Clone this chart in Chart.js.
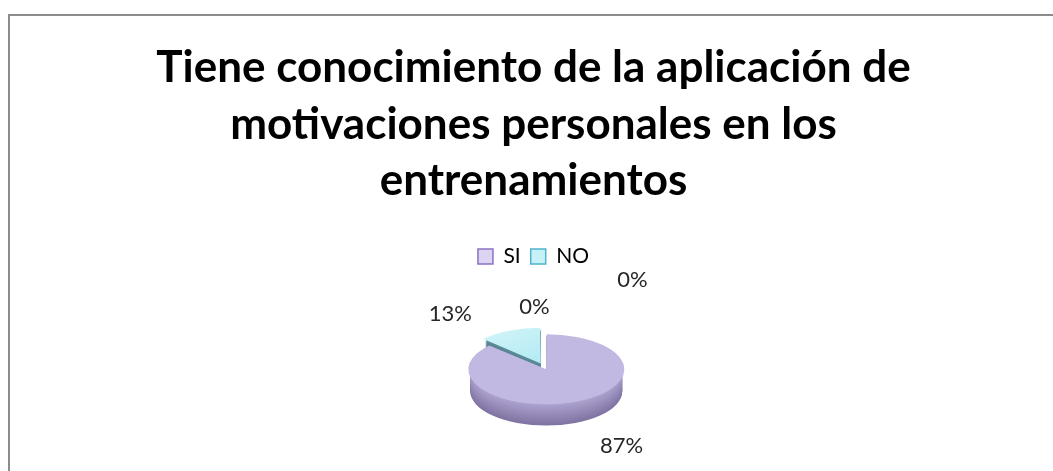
<!DOCTYPE html>
<html>
<head>
<meta charset="utf-8">
<title>Motivaciones personales</title>
<script src="https://cdn.jsdelivr.net/npm/chart.js@4.4.1/dist/chart.umd.min.js"></script>
<style>
    html, body { margin: 0; padding: 0; background: #fff; overflow: hidden; }
    #frame {
        position: absolute;
        left: 8px;
        top: 14px;
        width: 1060px;
        height: 470px;
        border: 2px solid #8c8c8c;
    }
    #chart { position: absolute; left: 0; top: 0; }
</style>
</head>
<body>
<div id="frame"></div>
<canvas id="chart" width="1053" height="471"></canvas>
<script>
// Survey answers (percent)
const categories = ['SI', 'NO', '', ''];
const percentages = [87, 13, 0, 0];
const titleLines = [
    'Tiene conocimiento de la aplicación de',
    'motivaciones personales en los',
    'entrenamientos'
];

// colours for the top face (light, dark) and the side wall (top, bottom)
const faceColors = [['#e6e2f6', '#c2b9e2'], ['#d4f6fa', '#98e0ec'], ['#ccc', '#ccc'], ['#ccc', '#ccc']];
const sideColors = [['#b0a5d2', '#8074a2'], ['#5e8e9a', '#355f6a'], ['#999', '#999'], ['#999', '#999']];
const legendBox = [
    { fill: '#dcd4f2', stroke: '#8a72c2' },
    { fill: '#c8f0f8', stroke: '#4fb4cc' }
];

// 3D look: flattened pie with an extruded wall, nudged a bit right of the title axis
const tilt = 0.45;
const depth = 22;
const pieShiftX = 12;
// where each percentage sits, relative to its radial anchor
const labelShift = [[38, 16], [-57, -15], [-11, -18], [87, -45]];

function pieCenter(chart) {
    const arc = chart.getDatasetMeta(0).data[0];
    return { cx: arc.x, cy: arc.y };
}

const piePerspective = {
    id: 'piePerspective',
    beforeDatasetsDraw(chart) {
        const ctx = chart.ctx;
        const { cx, cy } = pieCenter(chart);
        const arcs = chart.getDatasetMeta(0).data;

        // side walls, bottom layer first
        for (let d = depth; d > 0; d--) {
            arcs.forEach((arc, i) => {
                if (arc.circumference === 0) return;
                const off = (arc.options.offset || 0) / 4;
                const mid = (arc.startAngle + arc.endAngle) / 2;
                const ox = arc.x + Math.cos(mid) * off;
                const oy = arc.y + Math.sin(mid) * off;
                const t = d / depth;
                ctx.save();
                ctx.translate(cx + pieShiftX, cy + d);
                ctx.scale(1, tilt);
                ctx.translate(-cx, -cy);
                ctx.beginPath();
                ctx.moveTo(ox, oy);
                ctx.arc(ox, oy, arc.outerRadius, arc.startAngle, arc.endAngle);
                ctx.closePath();
                ctx.fillStyle = mix(sideColors[i][0], sideColors[i][1], t);
                ctx.fill();
                ctx.restore();
            });
        }

        // squash the top faces the library is about to draw
        ctx.save();
        ctx.translate(cx + pieShiftX, cy);
        ctx.scale(1, tilt);
        ctx.translate(-cx, -cy);
    },
    afterDatasetsDraw(chart) {
        const ctx = chart.ctx;
        ctx.restore();

        const { cx, cy } = pieCenter(chart);
        const arcs = chart.getDatasetMeta(0).data;
        ctx.save();
        ctx.font = '22px Lato';
        ctx.fillStyle = '#262626';
        ctx.textAlign = 'center';
        ctx.textBaseline = 'middle';
        arcs.forEach((arc, i) => {
            const mid = (arc.startAngle + arc.endAngle) / 2;
            const r = arc.outerRadius + 20;
            let x = cx + pieShiftX + Math.cos(mid) * r;
            let y = cy + Math.sin(mid) * r * tilt;
            if (Math.sin(mid) > 0) y += depth;
            x += labelShift[i][0];
            y += labelShift[i][1];
            ctx.fillText(percentages[i] + '%', x, y);
        });
        ctx.restore();
    }
};

function mix(a, b, t) {
    const pa = parseInt(a.slice(1), 16), pb = parseInt(b.slice(1), 16);
    const ch = (p, s) => (p >> s) & 255;
    const c = s => Math.round(ch(pa, s) + (ch(pb, s) - ch(pa, s)) * t);
    return `rgb(${c(16)}, ${c(8)}, ${c(0)})`;
}

function faceGradient(context) {
    const chart = context.chart;
    const meta = chart.getDatasetMeta(0);
    const arc = meta.data[0];
    const i = context.dataIndex;
    if (!arc || !arc.outerRadius) return faceColors[i][1];
    const r = arc.outerRadius;
    const g = chart.ctx.createLinearGradient(arc.x - r, arc.y - r, arc.x + r * 0.6, arc.y + r);
    g.addColorStop(0, faceColors[i][0]);
    g.addColorStop(1, faceColors[i][1]);
    return g;
}

new Chart(document.getElementById('chart'), {
    type: 'pie',
    data: {
        labels: categories,
        datasets: [{
            data: percentages,
            backgroundColor: faceGradient,
            borderWidth: 0,
            offset: [8, 48, 0, 0]
        }]
    },
    options: {
        responsive: false,
        animation: false,
        events: [],
        radius: 76,
        layout: { padding: { left: 14, bottom: 11 } },
        plugins: {
            title: {
                display: true,
                text: titleLines,
                color: '#000',
                font: { family: 'Lato', size: 44, weight: 'bold', lineHeight: 1.28 },
                padding: { top: 40, bottom: 27 }
            },
            legend: {
                position: 'top',
                labels: {
                    font: { family: 'Lato', size: 21 },
                    color: '#262626',
                    boxWidth: 15,
                    boxHeight: 15,
                    padding: 10,
                    generateLabels: chart => categories
                        .map((c, i) => ({
                            text: c,
                            fillStyle: legendBox[i] ? legendBox[i].fill : '#fff',
                            strokeStyle: legendBox[i] ? legendBox[i].stroke : '#fff',
                            lineWidth: 1.5,
                            index: i
                        }))
                        .filter(item => item.text !== '')
                }
            },
            tooltip: { enabled: false }
        }
    },
    plugins: [piePerspective]
});
</script>
</body>
</html>
